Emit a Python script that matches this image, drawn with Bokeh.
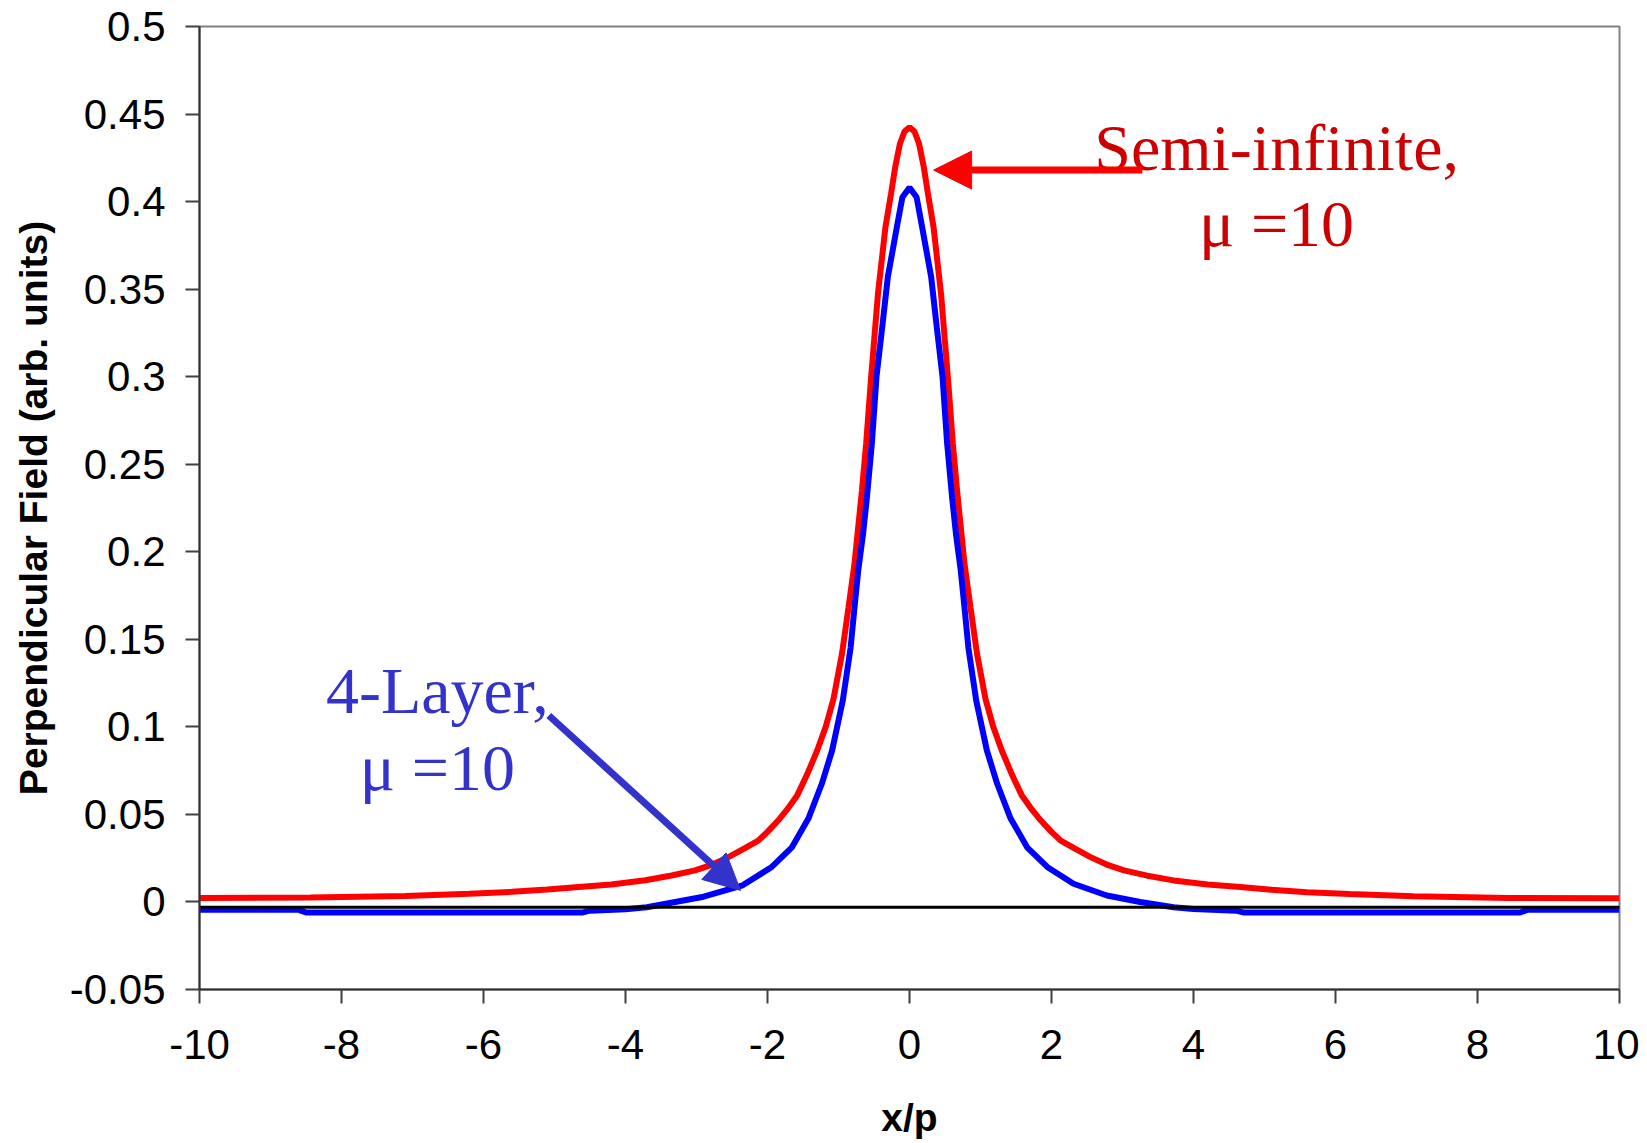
from bokeh.plotting import figure
from bokeh.models import FixedTicker, Arrow, NormalHead, Range1d
from bokeh.core.properties import value
from bokeh.embed import file_html
from bokeh.resources import INLINE

# ---- data ----
semi_x = [-10, -8.44, -7.1, -6.2, -5.6, -5.1, -4.66, -4.2, -3.72, -3.35, -3.02, -2.8, -2.55, -2.35,
          -2.13, -2.0, -1.85, -1.72, -1.58, -1.44, -1.3, -1.18, -1.07, -0.95, -0.86, -0.775, -0.67,
          -0.61, -0.54, -0.445, -0.34, -0.26, -0.2, -0.135, -0.07, 0,
          0.07, 0.135, 0.2, 0.26, 0.34, 0.445, 0.54, 0.61, 0.67, 0.775, 0.86, 0.95, 1.07, 1.18, 1.3,
          1.44, 1.58, 1.72, 1.85, 2.0, 2.13, 2.35, 2.55, 2.8, 3.02, 3.35, 3.72, 4.2, 4.66, 5.1, 5.6,
          6.2, 7.1, 8.44, 10]
semi_y = [0.0022, 0.0026, 0.0034, 0.0047, 0.0058, 0.0071, 0.0086, 0.010, 0.0124, 0.0151, 0.018,
          0.021, 0.0256, 0.030, 0.035, 0.040, 0.0465, 0.053, 0.061, 0.073, 0.0865, 0.100, 0.116,
          0.142, 0.168, 0.193, 0.235, 0.262, 0.300, 0.347, 0.385, 0.4045, 0.420, 0.433, 0.440, 0.4425,
          0.440, 0.433, 0.420, 0.4045, 0.385, 0.347, 0.300, 0.262, 0.235, 0.193, 0.168, 0.142, 0.116,
          0.100, 0.0865, 0.073, 0.061, 0.053, 0.0465, 0.040, 0.035, 0.030, 0.0256, 0.021, 0.018,
          0.015, 0.0123, 0.010, 0.0085, 0.007, 0.0056, 0.0045, 0.0032, 0.0023, 0.0021]

layer_x = [-10, -8.6, -8.5, -4.6, -4.5, -4.0, -3.7, -3.3, -2.9, -2.35, -1.94, -1.66, -1.42, -1.235,
           -1.09, -0.94, -0.83, -0.77, -0.72, -0.655, -0.6, -0.53, -0.465, -0.385, -0.305, -0.22,
           -0.18, -0.1, 0,
           0.1, 0.18, 0.22, 0.305, 0.385, 0.465, 0.53, 0.6, 0.655, 0.72, 0.77, 0.83, 0.94, 1.09,
           1.235, 1.42, 1.66, 1.94, 2.31, 2.78, 3.25, 3.72, 4.0, 4.6, 4.7, 8.6, 8.7, 10]
layer_y = [-0.0045, -0.0045, -0.006, -0.006, -0.005, -0.0042, -0.003, 0.0, 0.003, 0.0095, 0.020,
           0.031, 0.048, 0.0675, 0.0865, 0.115, 0.145, 0.170, 0.190, 0.210, 0.231, 0.262, 0.300,
           0.328, 0.357, 0.376, 0.385, 0.4025, 0.408,
           0.4025, 0.385, 0.376, 0.357, 0.328, 0.300, 0.262, 0.231, 0.210, 0.190, 0.170, 0.145,
           0.115, 0.0865, 0.0675, 0.048, 0.031, 0.020, 0.0104, 0.0037, 0.0, -0.003, -0.004, -0.005,
           -0.006, -0.006, -0.0045, -0.0045]

base_x = [-10, 10]
base_y = [-0.003, -0.003]

x_ticks = [-10, -8, -6, -4, -2, 0, 2, 4, 6, 8, 10]
x_tick_labels = ["-10", "-8", "-6", "-4", "-2", "0", "2", "4", "6", "8", "10"]
y_ticks = [-0.05, 0, 0.05, 0.1, 0.15, 0.2, 0.25, 0.3, 0.35, 0.4, 0.45, 0.5]
y_tick_labels = ["-0.05", "0", "0.05", "0.1", "0.15", "0.2", "0.25", "0.3", "0.35", "0.4", "0.45", "0.5"]

p = figure(output_backend="svg", toolbar_location=None,
           frame_width=1420, frame_height=963,
           min_border_left=199, min_border_right=20, min_border_top=26, min_border_bottom=146,
           x_range=Range1d(-10, 10), y_range=Range1d(-0.05, 0.5))
p.background_fill_color = "white"
p.border_fill_color = "white"
p.outline_line_color = "#808080"
p.outline_line_width = 2
p.xgrid.visible = False
p.ygrid.visible = False

for ax, ticks, labels in ((p.xaxis[0], x_ticks, x_tick_labels), (p.yaxis[0], y_ticks, y_tick_labels)):
    ax.ticker = FixedTicker(ticks=ticks)
    ax.major_label_overrides = {t: l for t, l in zip(ticks, labels)}
    ax.minor_tick_line_color = None
    ax.major_tick_in = 0
    ax.major_tick_out = 14
    ax.major_tick_line_color = "#404040"
    ax.major_tick_line_width = 2
    ax.axis_line_color = "#303030"
    ax.axis_line_width = 2
    ax.major_label_text_font = "Liberation Sans"
    ax.major_label_text_font_size = "42px"
    ax.major_label_text_color = "black"
    ax.axis_label_text_font = "Liberation Sans"
    ax.axis_label_text_font_size = "39px"
    ax.axis_label_text_font_style = "bold"
    ax.axis_label_text_color = "black"

p.xaxis.axis_label = "x/p"
p.yaxis.axis_label = "Perpendicular Field (arb. units)"
p.xaxis.major_label_standoff = 26
p.xaxis.axis_label_standoff = 34
p.yaxis.major_label_standoff = 20
p.yaxis.axis_label_standoff = 12

p.line(semi_x, semi_y, line_color="#FF0000", line_width=6)
p.line(layer_x, layer_y, line_color="#0000FF", line_width=6)
p.line(base_x, base_y, line_color="black", line_width=3)

# annotations
p.add_layout(Arrow(end=NormalHead(size=38, fill_color="#FF0000", line_color="#FF0000"),
                   x_start=3.28, y_start=0.418, x_end=0.34, y_end=0.418,
                   line_color="#FF0000", line_width=7))
p.add_layout(Arrow(end=NormalHead(size=36, fill_color="#3333CC", line_color="#3333CC"),
                   x_start=-5.08, y_start=0.1065, x_end=-2.38, y_end=0.0066,
                   line_color="#3333CC", line_width=7))

p.text(x=[5.17, 5.17], y=[0.431, 0.3875], text=["Semi-infinite,", "\u03bc =10"],
       text_font=value("Liberation Serif"), text_font_size="66px", text_color="#CC0000",
       text_align="center", text_baseline="alphabetic")
p.text(x=[-6.65, -6.65], y=[0.1208, 0.077], text=["4-Layer,", "\u03bc =10"],
       text_font=value("Liberation Serif"), text_font_size="66px", text_color="#3333CC",
       text_align="center", text_baseline="alphabetic")

open("out.html", "w").write(file_html(p, INLINE))
